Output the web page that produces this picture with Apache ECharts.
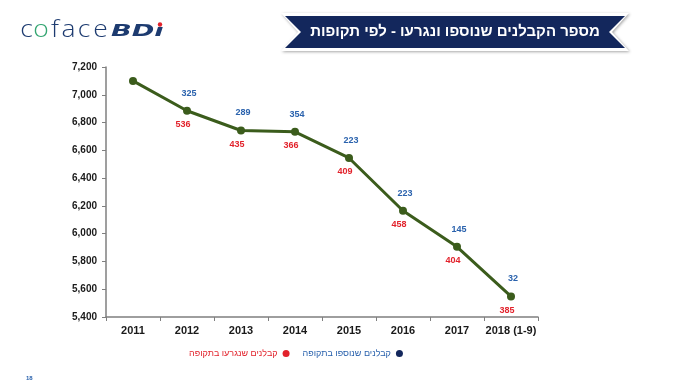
<!DOCTYPE html>
<html><head><meta charset="utf-8">
<script src="https://cdn.jsdelivr.net/npm/echarts@6/dist/echarts.min.js"></script>
<style>html,body{margin:0;padding:0;background:#fff}#c{width:693px;height:389px}</style>
</head><body><div id="c"></div>
<script>
const years = ['2011','2012','2013','2014','2015','2016','2017','2018 (1-9)'];
const contractors = [7100, 6885, 6743, 6733, 6545, 6165, 5905, 5548];
const added = [null, 325, 289, 354, 223, 223, 145, 32];
const removed = [null, 536, 435, 366, 409, 458, 404, 385];
const yTicks = { min: 5400, max: 7200, interval: 200 };
const titleText = 'מספר הקבלנים שנוספו ונגרעו - לפי תקופות';
const addedName = 'קבלנים שנוספו בתקופה';
const removedName = 'קבלנים שנגרעו בתקופה';

const BLUE = '#2a62ad', RED = '#e2222b', GREEN = '#3b5c1c', NAVY = '#13275c', LOGO = '#1d3b70';
const logoLetters = [
  { ch: 'c', x: 26.5, color: LOGO }, { ch: 'o', x: 41, color: '#33a571' }, { ch: 'f', x: 55, color: LOGO },
  { ch: 'a', x: 68.5, color: LOGO }, { ch: 'c', x: 84, color: LOGO }, { ch: 'e', x: 100.5, color: LOGO }
];
const chart = echarts.init(document.getElementById('c'));
const graphics = [
  { type: 'polygon', shape: { points: [[281,13],[629,13],[612,32],[629,51],[281,51],[298,32]] },
    style: { fill: '#ffffff', shadowBlur: 3, shadowColor: 'rgba(0,0,0,0.35)', shadowOffsetX: 1, shadowOffsetY: 1 } },
  { type: 'polygon', shape: { points: [[285,16],[625,16],[609,32],[625,48],[285,48],[301,32]] },
    style: { fill: NAVY } },
  { type: 'text', style: { text: titleText, x: 455, y: 32, align: 'center', verticalAlign: 'middle',
    fill: '#ffffff', font: 'bold 15px "Liberation Sans"' } },
  { type: 'text', x: 111, y: 32, scaleX: 1.7, style: { x: 0, y: 0, text: 'BD\u0131', verticalAlign: 'middle',
    fill: LOGO, font: 'italic bold 16px "DejaVu Sans"' } },
  { type: 'circle', shape: { cx: 160, cy: 24.5, r: 2.2 }, style: { fill: '#e2222b' } },
  { type: 'text', style: { x: 26, y: 378, text: '18', fill: '#2a62ad', font: 'bold 6px "Liberation Sans"', verticalAlign: 'middle' } }
];
logoLetters.forEach(l => graphics.push({ type: 'text', x: l.x, y: 30, scaleX: 1.1,
  style: { x: 0, y: 0, text: l.ch, align: 'center', verticalAlign: 'middle', fill: l.color, font: '300 24px "Open Sans"' } }));

chart.setOption({
  animation: false,
  grid: { left: 106, right: 155, top: 67, bottom: 72 },
  xAxis: {
    type: 'category', data: years, boundaryGap: true,
    axisLine: { lineStyle: { color: '#7f7f7f', width: 1.5 } },
    axisTick: { show: true, length: 4, interval: 0, lineStyle: { color: '#7f7f7f' } },
    axisLabel: { interval: 0, color: '#1a1a1a', fontWeight: 'bold', fontSize: 11, margin: 8, fontFamily: 'Liberation Sans' }
  },
  yAxis: {
    type: 'value', min: yTicks.min, max: yTicks.max, interval: yTicks.interval,
    axisLine: { show: true, lineStyle: { color: '#7f7f7f', width: 1.5 } },
    axisTick: { show: true, length: 4, lineStyle: { color: '#7f7f7f' } },
    splitLine: { show: false },
    axisLabel: { color: '#1a1a1a', fontWeight: 'bold', fontSize: 10, margin: 9, fontFamily: 'Liberation Sans',
      formatter: v => v.toLocaleString('en-US') }
  },
  legend: {
    left: 184, top: 344, itemWidth: 7, itemHeight: 7, itemGap: 13, align: 'right', icon: 'circle',
    textStyle: { fontSize: 9, fontFamily: 'Liberation Sans' },
    data: [
      { name: removedName, itemStyle: { color: RED, opacity: 1 }, textStyle: { color: RED } },
      { name: addedName, itemStyle: { color: NAVY }, textStyle: { color: BLUE } }
    ]
  },
  series: [
    {
      name: addedName, type: 'line', data: contractors,
      symbol: 'circle', symbolSize: 8,
      itemStyle: { color: GREEN }, lineStyle: { color: GREEN, width: 3 },
      label: { show: true, position: 'top', distance: 9, offset: [2, 0], color: BLUE, fontSize: 9, fontWeight: 'bold',
        fontFamily: 'Liberation Sans', formatter: p => added[p.dataIndex] == null ? '' : String(added[p.dataIndex]) },
      z: 3
    },
    {
      name: removedName, type: 'line', data: contractors,
      symbol: 'circle', symbolSize: 1, showSymbol: true, lineStyle: { opacity: 0 },
      itemStyle: { color: 'rgba(226,34,43,0)' },
      label: { show: true, position: 'bottom', distance: 9, offset: [-4, 0], color: RED, fontSize: 9, fontWeight: 'bold',
        fontFamily: 'Liberation Sans', formatter: p => removed[p.dataIndex] == null ? '' : String(removed[p.dataIndex]) },
      z: 2
    }
  ],
  graphic: graphics
});
</script></body></html>
